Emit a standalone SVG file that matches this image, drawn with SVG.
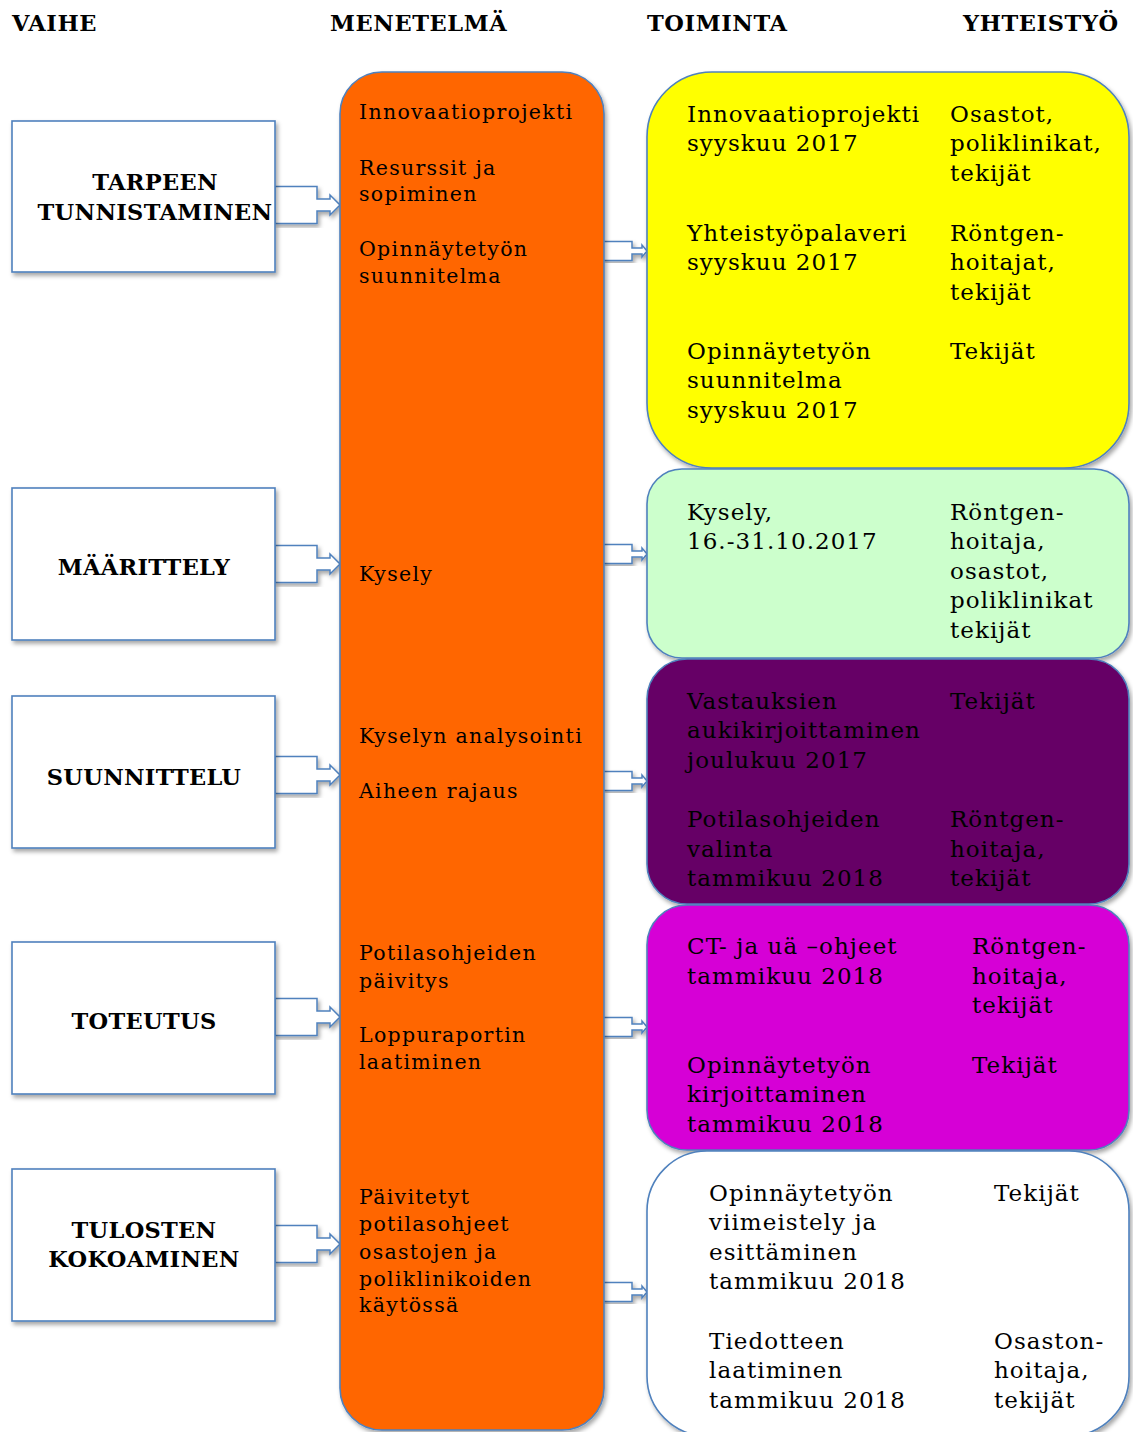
<svg xmlns="http://www.w3.org/2000/svg" width="1133" height="1432" viewBox="0 0 1133 1432">
<defs>
<filter id="sh" x="-10%" y="-10%" width="120%" height="120%">
<feDropShadow dx="2" dy="3" stdDeviation="2" flood-color="#000" flood-opacity="0.35"/>
</filter>
<path id="la" d="M0,-18.5 H42 V-6 H55 V-10 L65,0 L55,10 V6 H42 V18.5 H0 Z"/>
<path id="ra" d="M0,-9.5 H29 V-3 H39 V-6 L44,0 L39,6 V3 H29 V9.5 H0 Z"/>
</defs>
<style>
.box{fill:#fff;stroke:#4f81bd;stroke-width:1.6;filter:url(#sh)}
.arr{fill:#fff;stroke:#4f81bd;stroke-width:1.5;filter:url(#sh)}
.rb{stroke:#4f81bd;stroke-width:1.6;filter:url(#sh)}
.h{font-family:"DejaVu Serif",serif;font-weight:bold;font-size:22.5px;fill:#000;letter-spacing:0.6px}
.b{font-family:"DejaVu Serif",serif;font-weight:bold;font-size:22.5px;fill:#000;text-anchor:middle;letter-spacing:0.3px}
.o{font-family:"DejaVu Serif",serif;font-size:20.5px;fill:#000;letter-spacing:1.3px}
.t{font-family:"DejaVu Serif",serif;font-size:23px;fill:#000;letter-spacing:1.05px}
</style>
<rect width="1133" height="1432" fill="#fff"/>
<g id="headers">
<text class="h" x="12" y="31">VAIHE</text>
<text class="h" x="330" y="31">MENETELMÄ</text>
<text class="h" x="647" y="31">TOIMINTA</text>
<text class="h" x="963" y="31">YHTEISTYÖ</text>
</g>
<g id="connectors">
<use href="#la" class="arr" x="275" y="205"/>
<use href="#la" class="arr" x="275" y="564"/>
<use href="#la" class="arr" x="275" y="775"/>
<use href="#la" class="arr" x="275" y="1017"/>
<use href="#la" class="arr" x="275" y="1244"/>
<use href="#ra" class="arr" x="603" y="251"/>
<use href="#ra" class="arr" x="603" y="554"/>
<use href="#ra" class="arr" x="603" y="781"/>
<use href="#ra" class="arr" x="603" y="1027"/>
<use href="#ra" class="arr" x="603" y="1292"/>
</g>
<g id="vaihe1"><rect class="box" x="12" y="121" width="263" height="151"/>
<text class="b" x="155" y="190">TARPEEN</text><text class="b" x="155" y="220" letter-spacing="0">TUNNISTAMINEN</text></g>
<g id="vaihe2"><rect class="box" x="12" y="488" width="263" height="152"/>
<text class="b" x="144" y="575" letter-spacing="0.6">MÄÄRITTELY</text></g>
<g id="vaihe3"><rect class="box" x="12" y="696" width="263" height="152"/>
<text class="b" x="144" y="785">SUUNNITTELU</text></g>
<g id="vaihe4"><rect class="box" x="12" y="942" width="263" height="152"/>
<text class="b" x="144" y="1029">TOTEUTUS</text></g>
<g id="vaihe5"><rect class="box" x="12" y="1169" width="263" height="152"/>
<text class="b" x="144" y="1238">TULOSTEN</text><text class="b" x="144" y="1267">KOKOAMINEN</text></g>
<g id="menetelma">
<rect class="rb" x="340" y="72" width="264" height="1358" rx="42" ry="42" fill="#ff6600"/>
<text class="o" x="359" y="119">Innovaatioprojekti</text>
<text class="o" x="359" y="175">Resurssit ja</text>
<text class="o" x="359" y="201">sopiminen</text>
<text class="o" x="359" y="256">Opinnäytetyön</text>
<text class="o" x="359" y="283">suunnitelma</text>
<text class="o" x="359" y="581">Kysely</text>
<text class="o" x="359" y="743">Kyselyn analysointi</text>
<text class="o" x="359" y="798">Aiheen rajaus</text>
<text class="o" x="359" y="960">Potilasohjeiden</text>
<text class="o" x="359" y="988">päivitys</text>
<text class="o" x="359" y="1042">Loppuraportin</text>
<text class="o" x="359" y="1069">laatiminen</text>
<text class="o" x="359" y="1204">Päivitetyt</text>
<text class="o" x="359" y="1231">potilasohjeet</text>
<text class="o" x="359" y="1259">osastojen ja</text>
<text class="o" x="359" y="1286">poliklinikoiden</text>
<text class="o" x="359" y="1312">käytössä</text>
</g>
<g id="toiminta1">
<rect class="rb" x="647" y="72" width="482" height="396" rx="65" ry="65" fill="#ffff00"/>
<text class="t" x="687" y="122">Innovaatioprojekti</text>
<text class="t" x="687" y="151">syyskuu 2017</text>
<text class="t" x="950" y="122">Osastot,</text>
<text class="t" x="950" y="151">poliklinikat,</text>
<text class="t" x="950" y="181">tekijät</text>
<text class="t" x="687" y="241">Yhteistyöpalaveri</text>
<text class="t" x="687" y="270">syyskuu 2017</text>
<text class="t" x="950" y="241">Röntgen-</text>
<text class="t" x="950" y="270">hoitajat,</text>
<text class="t" x="950" y="300">tekijät</text>
<text class="t" x="687" y="359">Opinnäytetyön</text>
<text class="t" x="687" y="388">suunnitelma</text>
<text class="t" x="687" y="418">syyskuu 2017</text>
<text class="t" x="950" y="359">Tekijät</text>
</g>
<g id="toiminta2">
<rect class="rb" x="647" y="469" width="482" height="189" rx="35" ry="35" fill="#ccffcc"/>
<text class="t" x="687" y="520">Kysely,</text>
<text class="t" x="687" y="549">16.-31.10.2017</text>
<text class="t" x="950" y="520">Röntgen-</text>
<text class="t" x="950" y="549">hoitaja,</text>
<text class="t" x="950" y="579">osastot,</text>
<text class="t" x="950" y="608">poliklinikat</text>
<text class="t" x="950" y="638">tekijät</text>
</g>
<g id="toiminta3">
<rect class="rb" x="647" y="659" width="482" height="245" rx="40" ry="40" fill="#660066"/>
<text class="t" x="687" y="709">Vastauksien</text>
<text class="t" x="687" y="738">aukikirjoittaminen</text>
<text class="t" x="687" y="768">joulukuu 2017</text>
<text class="t" x="950" y="709">Tekijät</text>
<text class="t" x="687" y="827">Potilasohjeiden</text>
<text class="t" x="687" y="857">valinta</text>
<text class="t" x="687" y="886">tammikuu 2018</text>
<text class="t" x="950" y="827">Röntgen-</text>
<text class="t" x="950" y="857">hoitaja,</text>
<text class="t" x="950" y="886">tekijät</text>
</g>
<g id="toiminta4">
<rect class="rb" x="647" y="905" width="482" height="245" rx="40" ry="40" fill="#d600d6"/>
<text class="t" x="687" y="954">CT- ja uä –ohjeet</text>
<text class="t" x="687" y="984">tammikuu 2018</text>
<text class="t" x="972" y="954">Röntgen-</text>
<text class="t" x="972" y="984">hoitaja,</text>
<text class="t" x="972" y="1013">tekijät</text>
<text class="t" x="687" y="1073">Opinnäytetyön</text>
<text class="t" x="687" y="1102">kirjoittaminen</text>
<text class="t" x="687" y="1132">tammikuu 2018</text>
<text class="t" x="972" y="1073">Tekijät</text>
</g>
<g id="toiminta5">
<rect class="rb" x="647" y="1151" width="482" height="285" rx="60" ry="60" fill="#ffffff"/>
<text class="t" x="709" y="1201">Opinnäytetyön</text>
<text class="t" x="709" y="1230">viimeistely ja</text>
<text class="t" x="709" y="1260">esittäminen</text>
<text class="t" x="709" y="1289">tammikuu 2018</text>
<text class="t" x="994" y="1201">Tekijät</text>
<text class="t" x="709" y="1349">Tiedotteen</text>
<text class="t" x="709" y="1378">laatiminen</text>
<text class="t" x="709" y="1408">tammikuu 2018</text>
<text class="t" x="994" y="1349">Osaston-</text>
<text class="t" x="994" y="1378">hoitaja,</text>
<text class="t" x="994" y="1408">tekijät</text>
</g>
</svg>
